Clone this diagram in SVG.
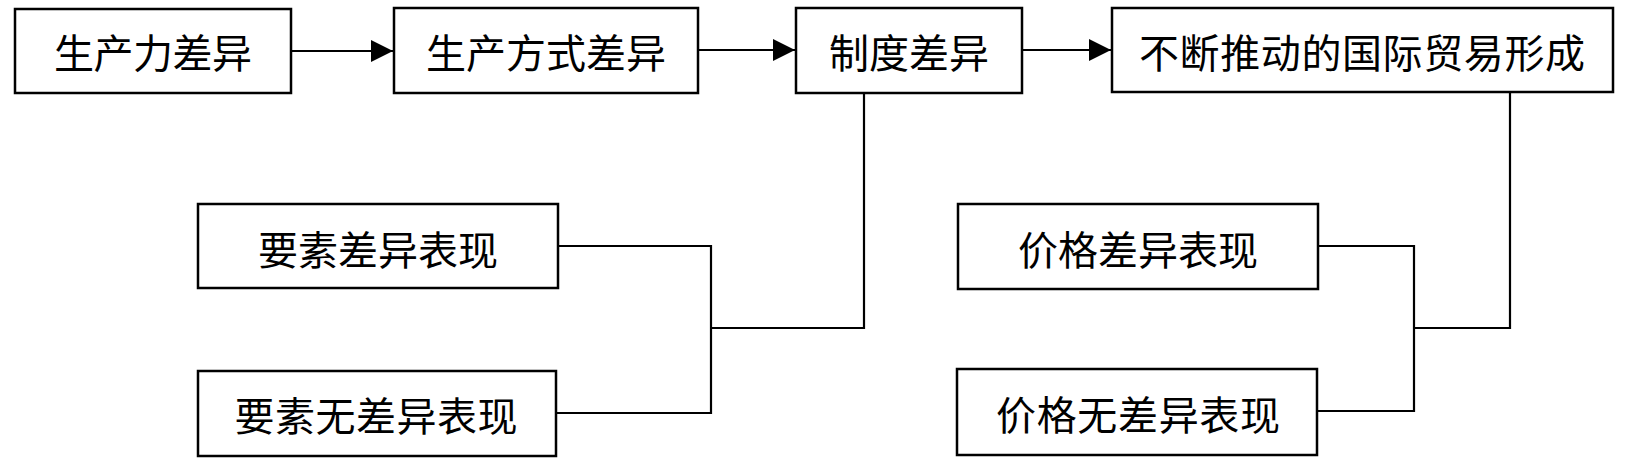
<svg xmlns="http://www.w3.org/2000/svg" width="1648" height="475" viewBox="0 0 1648 475">
<style>
.box{fill:#fff;stroke:#000;stroke-width:2.5}
.t{font-family:"Noto Sans CJK SC","Noto Sans CJK JP",sans-serif;font-size:40px;fill:#000;text-anchor:middle;dominant-baseline:central}
.ln{fill:none;stroke:#000;stroke-width:2.2}
</style>
<defs>
<marker id="ah" markerWidth="22" markerHeight="22" viewBox="0 0 22 22" refX="22" refY="11" orient="auto" markerUnits="userSpaceOnUse">
<path d="M0,0 L22,11 L0,22 Z" fill="#000"/>
</marker>
</defs>
<g id="connectors">
<line class="ln" x1="291" y1="51" x2="393" y2="51" marker-end="url(#ah)"/>
<line class="ln" x1="698" y1="50" x2="795" y2="50" marker-end="url(#ah)"/>
<line class="ln" x1="1022" y1="50" x2="1111" y2="50" marker-end="url(#ah)"/>
<polyline class="ln" points="864,93 864,328 711,328"/>
<polyline class="ln" points="558,246 711,246 711,413 556,413"/>
<polyline class="ln" points="1510,93 1510,328 1414,328"/>
<polyline class="ln" points="1318,246 1414,246 1414,411 1317,411"/>
</g>
<g id="n1"><rect class="box" x="15" y="9" width="276" height="84"/><text class="t" x="153" y="51" textLength="198">生产力差异</text></g>
<g id="n2"><rect class="box" x="394" y="8" width="304" height="85"/><text class="t" x="546" y="51" textLength="240">生产方式差异</text></g>
<g id="n3"><rect class="box" x="796" y="8" width="226" height="85"/><text class="t" x="909" y="51" textLength="160">制度差异</text></g>
<g id="n4"><rect class="box" x="1112" y="8" width="501" height="84"/><text class="t" x="1362" y="51" textLength="446">不断推动的国际贸易形成</text></g>
<g id="n5"><rect class="box" x="198" y="204" width="360" height="84"/><text class="t" x="378" y="248" textLength="240">要素差异表现</text></g>
<g id="n6"><rect class="box" x="198" y="371" width="358" height="85"/><text class="t" x="376" y="414" textLength="283">要素无差异表现</text></g>
<g id="n7"><rect class="box" x="958" y="204" width="360" height="85"/><text class="t" x="1138" y="248" textLength="240">价格差异表现</text></g>
<g id="n8"><rect class="box" x="957" y="369" width="360" height="86"/><text class="t" x="1138" y="413" textLength="284">价格无差异表现</text></g>
</svg>
